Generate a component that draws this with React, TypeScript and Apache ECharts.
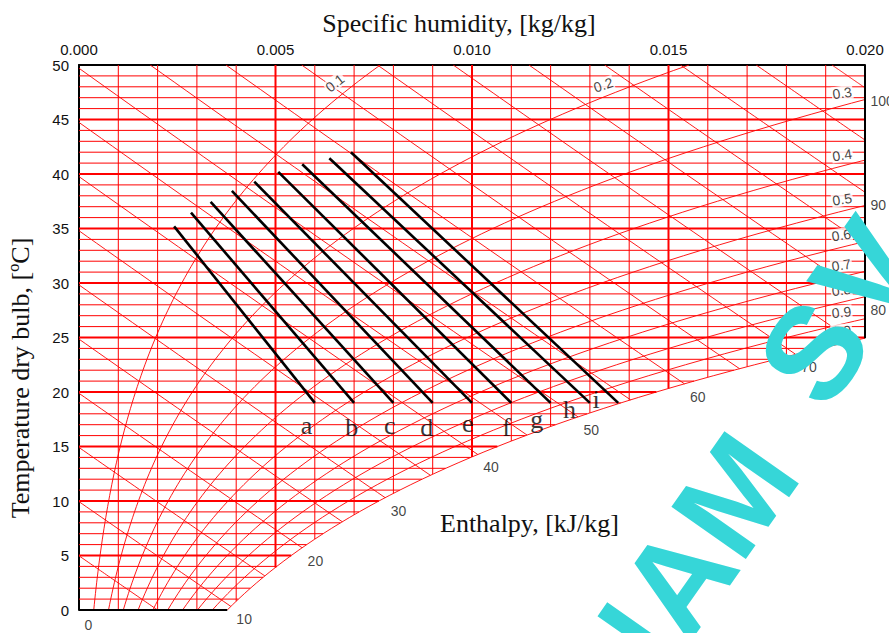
import React, { useEffect, useRef } from "react";
import * as echarts from "echarts";

// ---------- data ----------
const humidityTicks = [0, 0.005, 0.01, 0.015, 0.02];
const temperatureTicks = [0, 5, 10, 15, 20, 25, 30, 35, 40, 45, 50];
const humidityGridSteps = [1, 2, 3, 4, 5, 6, 7, 8, 9, 10, 11, 12, 13, 14, 15, 16, 17, 18, 19]; // x 0.001 kg/kg
const temperatureGridSteps = [
  1, 2, 3, 4, 5, 6, 7, 8, 9, 10, 11, 12, 13, 14, 15, 16, 17, 18, 19, 20, 21, 22, 23, 24, 25,
  26, 27, 28, 29, 30, 31, 32, 33, 34, 35, 36, 37, 38, 39, 40, 41, 42, 43, 44, 45, 46, 47, 48, 49,
];

const rhLevels = [0.1, 0.2, 0.3, 0.4, 0.5, 0.6, 0.7, 0.8, 0.9, 1.0];
const rhLabelTexts = ["0.1", "0.2", "0.3", "0.4", "0.5", "0.6", "0.7", "0.8", "0.9", "1.0"];
const rhLabelW = [0.00651, 0.01334, 0.01942, 0.01942, 0.01942, 0.0194, 0.0194, 0.0194, 0.0194, 0.0194];
const rhLabelT = [48.35, 48.17, 47.43, 41.74, 37.68, 34.4, 31.65, 29.36, 27.31, 25.6];
const rhLabelAngle = [38, 18, 8, 9, 9, 9, 9, 8, 6, 5];

const enthalpyLevels = [5, 10, 15, 20, 25, 30, 35, 40, 45, 50, 55, 60, 65, 70, 75, 80, 85, 90, 95, 100];
const enthalpyLabelLevels = [0, 10, 20, 30, 40, 50, 60, 70, 80, 90, 100];

const processNames = ["a", "b", "c", "d", "e", "f", "g", "h", "i"];
const processStartW = [0.00242, 0.00285, 0.00335, 0.00389, 0.00446, 0.00507, 0.00568, 0.00637, 0.00692];
const processStartT = [35.2, 36.45, 37.45, 38.45, 39.3, 40.2, 40.9, 41.45, 42.0];
const processEndW = [0.006, 0.007, 0.008, 0.009, 0.01, 0.011, 0.012, 0.013, 0.01372];
const processEndT = [19, 19, 19, 19, 19, 19, 19, 19, 19];
const processLabelW = [0.00579, 0.00694, 0.00791, 0.00885, 0.00989, 0.01088, 0.01165, 0.01248, 0.01316];
const processLabelT = [16.9, 16.75, 16.9, 16.7, 17.1, 16.7, 17.45, 18.4, 19.35];

// ---------- psychrometric relations ----------
const P_ATM = 101.325;
const psat = (t: number) => 0.61078 * Math.exp((17.27 * t) / (t + 237.3));
const humidityAt = (t: number, rh: number) => {
  const pv = rh * psat(t);
  return (0.622 * pv) / (P_ATM - pv);
};
const tempAt = (w: number, rh: number) => {
  const pv = (w * P_ATM) / (0.622 + w);
  const L = Math.log(pv / rh / 0.61078);
  return (237.3 * L) / (17.27 - L);
};
const tempOfEnthalpy = (h: number, w: number) => (h - 2501 * w) / (1.006 + 1.86 * w);

const W_MAX = humidityTicks[humidityTicks.length - 1];
const T_MAX = temperatureTicks[temperatureTicks.length - 1];

function enthalpyLine(h: number): number[][] {
  if (h <= 0) return [[0, 0]];
  const wStart = Math.max(0, (h - 1.006 * T_MAX) / (2501 + 1.86 * T_MAX));
  const wLimit = Math.min(h / 2501, W_MAX);
  const g = (w: number) => tempOfEnthalpy(h, w) - tempAt(w, 1);
  let wEnd = wLimit;
  if (g(wLimit) < 0) {
    let lo = wStart;
    let hi = wLimit;
    for (let k = 0; k < 60; k++) {
      const mid = (lo + hi) / 2;
      if (g(mid) > 0) lo = mid;
      else hi = mid;
    }
    wEnd = lo;
  }
  const pts: number[][] = [];
  const n = 40;
  for (let k = 0; k <= n; k++) {
    const w = wStart + ((wEnd - wStart) * k) / n;
    pts.push([w, Math.max(0, Math.min(T_MAX, tempOfEnthalpy(h, w)))]);
  }
  return pts;
}

function rhCurve(rh: number): number[][] {
  const tEnd = Math.min(T_MAX, tempAt(W_MAX, rh));
  const pts: number[][] = [];
  for (let t = 0; t < tEnd; t += 0.5) pts.push([humidityAt(t, rh), t]);
  pts.push([Math.min(W_MAX, humidityAt(tEnd, rh)), tEnd]);
  return pts;
}

const RED = "#ff0000";
const SANS = '"Liberation Sans", Arial, sans-serif';
const SERIF = '"Liberation Serif", "Times New Roman", serif';

function buildOption(): any {
  const series: any[] = [];
  const addLine = (data: number[][], width: number, color: string, z: number, clip = true) =>
    series.push({
      type: "line",
      data,
      symbol: "none",
      showSymbol: false,
      silent: true,
      clip,
      z,
      lineStyle: { width, color },
      emphasis: { disabled: true },
    });

  const wSat0 = humidityAt(0, 1);
  humidityGridSteps.forEach((s) => {
    const w = s * 0.001;
    const tBottom = w <= wSat0 ? 0 : tempAt(w, 1);
    addLine([[w, T_MAX], [w, tBottom]], s % 5 === 0 ? 2 : 1, RED, 1);
  });
  temperatureGridSteps.forEach((t) => {
    const wRight = Math.min(W_MAX, humidityAt(t, 1));
    addLine([[0, t], [wRight, t]], t % 5 === 0 ? 2 : 1, RED, 1);
  });
  rhLevels.forEach((rh) => addLine(rhCurve(rh), 0.9, RED, 2));
  enthalpyLevels.forEach((h) => addLine(enthalpyLine(h), 0.9, RED, 2));

  // region borders (bottom and right part)
  addLine([[0, 0], [wSat0, 0]], 2, "#000", 3, false);
  addLine([[W_MAX, T_MAX], [W_MAX, tempAt(W_MAX, 1)]], 2, "#000", 3, false);

  // process lines a..i
  processNames.forEach((_, i) =>
    addLine(
      [
        [processStartW[i], processStartT[i]],
        [processEndW[i], processEndT[i]],
      ],
      2.6,
      "#000",
      4
    )
  );

  // enthalpy labels
  series.push({
    type: "scatter",
    silent: true,
    clip: false,
    z: 6,
    symbolSize: 1,
    itemStyle: { color: "rgba(0,0,0,0)" },
    data: enthalpyLabelLevels.map((h) => {
      const line = enthalpyLine(h);
      return {
        name: String(h),
        value: line[line.length - 1],
        label: h === 0 ? { offset: [0, 15] } : undefined,
      };
    }),
    label: {
      show: true,
      position: "right",
      distance: 5,
      offset: [0, 13],
      formatter: "{b}",
      color: "#111",
      fontSize: 14,
      fontFamily: SANS,
    },
  });

  // RH labels
  series.push({
    type: "scatter",
    silent: true,
    clip: false,
    z: 6,
    symbolSize: 1,
    itemStyle: { color: "rgba(0,0,0,0)" },
    data: rhLabelTexts.map((txt, i) => ({
      name: txt,
      value: [rhLabelW[i], rhLabelT[i]],
      label: { rotate: rhLabelAngle[i] },
    })),
    label: {
      show: true,
      position: "inside",
      formatter: "{b}",
      color: "#111",
      fontSize: 14,
      fontFamily: SANS,
      backgroundColor: "#fff",
      padding: [0, 1],
    },
  });

  // process letters
  series.push({
    type: "scatter",
    silent: true,
    clip: false,
    z: 6,
    symbolSize: 1,
    itemStyle: { color: "rgba(0,0,0,0)" },
    data: processNames.map((n, i) => ({ name: n, value: [processLabelW[i], processLabelT[i]] })),
    label: {
      show: true,
      position: "inside",
      formatter: "{b}",
      color: "#000",
      fontSize: 26,
      fontFamily: SERIF,
    },
  });

  const wmRot = (55 * Math.PI) / 180;
  const wmLetters = [
    { ch: "N", x: 622, y: 660 },
    { ch: "A", x: 678, y: 580 },
    { ch: "M", x: 735, y: 495 },
    { ch: "S", x: 814, y: 352 },
    { ch: "V", x: 868, y: 272 },
  ];

  return {
    animation: false,
    backgroundColor: "#fff",
    grid: { left: 79, right: 24, top: 65, bottom: 23, outerBoundsMode: "none", containLabel: false },
    xAxis: {
      type: "value",
      position: "top",
      min: humidityTicks[0],
      max: W_MAX,
      interval: 0.005,
      axisLine: { show: true, onZero: false, lineStyle: { color: "#000", width: 2 } },
      axisTick: { show: false },
      splitLine: { show: false },
      axisLabel: {
        showMinLabel: true,
        showMaxLabel: true,
        formatter: (v: number) => v.toFixed(3),
        fontSize: 15,
        color: "#111",
        margin: 8,
        fontFamily: SANS,
      },
    },
    yAxis: {
      type: "value",
      min: temperatureTicks[0],
      max: T_MAX,
      interval: 5,
      axisLine: { show: true, onZero: false, lineStyle: { color: "#000", width: 2 } },
      axisTick: { show: false },
      splitLine: { show: false },
      axisLabel: {
        showMinLabel: true,
        showMaxLabel: true,
        fontSize: 15,
        color: "#111",
        margin: 10,
        fontFamily: SANS,
      },
    },
    series,
    graphic: [
      {
        type: "text",
        x: 459,
        y: 23,
        z: 10,
        style: {
          text: "Specific humidity, [kg/kg]",
          fill: "#111",
          fontSize: 26,
          fontFamily: SERIF,
          align: "center",
          verticalAlign: "middle",
          textAlign: "center",
          textVerticalAlign: "middle",
        },
      },
      {
        type: "text",
        x: 20,
        y: 378,
        rotation: Math.PI / 2,
        z: 10,
        style: {
          text: "Temperature dry bulb, [ºC]",
          fill: "#111",
          fontSize: 26,
          fontFamily: SERIF,
          align: "center",
          verticalAlign: "middle",
          textAlign: "center",
          textVerticalAlign: "middle",
        },
      },
      {
        type: "text",
        x: 440,
        y: 523,
        z: 10,
        style: {
          text: "Enthalpy, [kJ/kg]",
          fill: "#111",
          fontSize: 26,
          fontFamily: SERIF,
          align: "left",
          verticalAlign: "middle",
          textAlign: "left",
          textVerticalAlign: "middle",
        },
      },
      ...wmLetters.map((l) => ({
        type: "text",
        x: l.x,
        y: l.y,
        rotation: wmRot,
        z: 100,
        style: {
          text: l.ch,
          fill: "#36d6d8",
          fontSize: 132,
          fontWeight: "bold",
          fontFamily: SANS,
          align: "center",
          verticalAlign: "middle",
          textAlign: "center",
          textVerticalAlign: "middle",
        },
      })),
    ],
  };
}

export default function App() {
  const ref = useRef<HTMLDivElement>(null);
  useEffect(() => {
    const chart = echarts.init(ref.current!, null, { renderer: "svg" });
    chart.setOption(buildOption());
    return () => chart.dispose();
  }, []);
  return (
    <div
      ref={ref}
      style={{ position: "absolute", left: 0, top: 0, width: 889, height: 633, background: "#fff" }}
    />
  );
}
